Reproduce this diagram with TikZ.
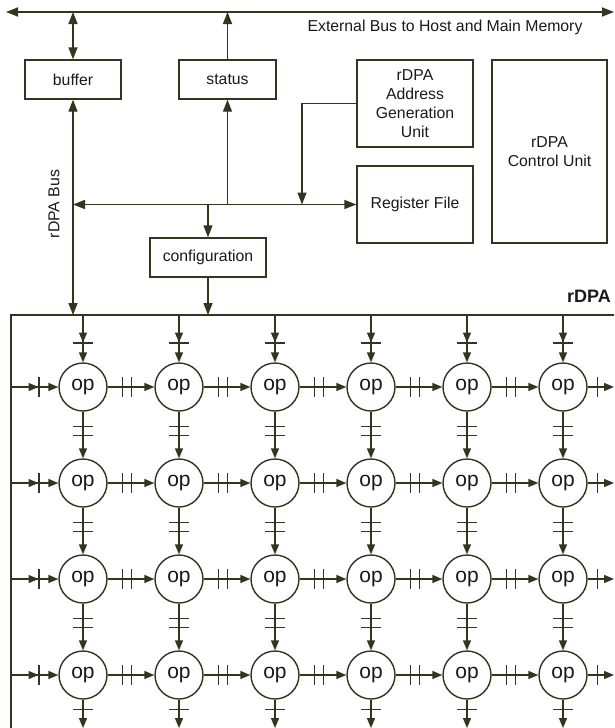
\documentclass[tikz,border=0pt]{standalone}
\usepackage{fontspec}
\setmainfont{Liberation Sans}
\usetikzlibrary{arrows.meta,decorations.markings}
\definecolor{lc}{HTML}{36331F}
\definecolor{tc}{HTML}{1A1A1A}
\newcommand\fsz{\fontsize{15.8pt}{19pt}\selectfont}
\newcommand\opsz{\fontsize{21pt}{24pt}\selectfont}
\newcommand\rsz{\fontsize{18pt}{21pt}\selectfont\bfseries}
\tikzset{
  ln/.style={line width=1.4pt, draw=lc},
  ea/.style={-{Triangle[length=12pt,width=9pt]}},
  ba/.style={{Triangle[length=12pt,width=9pt]}-{Triangle[length=12pt,width=9pt]}},
  ga/.style={-{Triangle[length=10pt,width=8pt]}},
  bx/.style={draw=lc, line width=1.4pt, fill=white, inner sep=0pt, text=tc, font=\fsz, align=center},
  opn/.style={circle, draw=lc, line width=1.4pt, fill=white, minimum size=48pt, inner sep=0pt, text=tc, font=\opsz},
  lbl/.style={text=tc, font=\fsz, inner sep=0pt},
  tkA/.style={postaction={decorate}, decoration={markings,
     mark=at position 27.5pt with {\arrow[lc]{Triangle[length=10pt,width=8pt]}},
     mark=at position 28pt with {\draw[-,lc,line width=1.4pt] (0,-10) -- (0,10);}}},
  tkB/.style={postaction={decorate}, decoration={markings,
     mark=at position 14.5pt with {\draw[-,lc,line width=1.4pt] (0,-10) -- (0,10);},
     mark=at position 23.5pt with {\draw[-,lc,line width=1.4pt] (0,-10) -- (0,10);}}},
  tkC/.style={postaction={decorate}, decoration={markings,
     mark=at position 9.5pt with {\draw[-,lc,line width=1.4pt] (0,-10) -- (0,10);}}},
}
\begin{document}
\begin{tikzpicture}[x=1pt, y=-1pt, color=lc]
\useasboundingbox (0,0) rectangle (614,728);

% upper boxes
\node[bx, minimum width=96pt, minimum height=39pt] (buffer) at (73,79.5) {buffer};
\node[bx, minimum width=97pt, minimum height=39pt] (status) at (227.5,79.5) {status};
\node[bx, minimum width=116pt, minimum height=87pt] (agu) at (415,103.5) {rDPA\\Address\\Generation\\Unit};
\node[bx, minimum width=116pt, minimum height=77pt] (regfile) at (415,204.5) {Register File};
\node[bx, minimum width=115pt, minimum height=183pt] (ctrl) at (549.5,151.5) {rDPA\\Control Unit};
\node[bx, minimum width=116pt, minimum height=39pt] (config) at (208,257.5) {configuration};

% external bus
\coordinate (busL) at (6,12);
\coordinate (busR) at (614,12);
\coordinate (busbuf) at (73,12);
\coordinate (busstat) at (227.5,12);
\draw[ln, ba] (busL) -- (busR);
\draw[ln, ba] (busbuf) -- (buffer);
\draw[ln, ea] (status) -- (busstat);
\node[lbl, anchor=base] (extlbl) at (445,31) {External Bus to Host and Main Memory};

% internal bus
\coordinate (hbL) at (73,204.5);
\coordinate (hs) at (227.5,204.5);
\coordinate (ha) at (302,204.5);
\coordinate (hc) at (208,204.5);
\coordinate (rbus) at (73,315);
\coordinate (cfgin) at (208,315);
\draw[ln, ba] (buffer) -- (rbus);
\draw[ln, ba] (hbL) -- (regfile.west);
\draw[ln, ea] (hs) -- (status);
\draw[ln, ea] (agu.west) -| (ha);
\draw[ln, ea] (hc) -- (config);
\draw[ln, ea] (config) -- (cfgin);
\node[lbl, rotate=90] (buslbl) at (54,204) {rDPA Bus};

% rDPA array frame
\coordinate (rTL) at (11,315);
\coordinate (rTR) at (614,315);
\coordinate (rBL) at (11,728);
\draw[ln] (rTR) -- (rTL) -- (rBL);
\node[lbl, anchor=base east, font=\rsz] (rdpalbl) at (611,302) {rDPA};

% op cells
\foreach \r in {1,...,4} {
  \foreach \c in {1,...,6} {
    \node[opn] (o\r\c) at ({83+96*(\c-1)},{387+96*(\r-1)}) {op};
  }
}
% top inputs and bottom outputs
\foreach \c in {1,...,6} {
  \coordinate (t\c) at ({83+96*(\c-1)},315);
  \coordinate (b\c) at ({83+96*(\c-1)},728);
  \draw[ln, ga, tkA] (t\c) -- (o1\c);
  \draw[ln, ga, tkC] (o4\c) -- (b\c);
}
% left inputs and right outputs
\foreach \r in {1,...,4} {
  \coordinate (l\r) at (11,{387+96*(\r-1)});
  \coordinate (e\r) at (614,{387+96*(\r-1)});
  \draw[ln, ga, tkA] (l\r) -- (o\r1);
  \draw[ln, ga, tkC] (o\r6) -- (e\r);
}
% horizontal links
\foreach \r in {1,...,4} {
  \foreach \c in {1,...,5} {
    \pgfmathtruncatemacro{\nc}{\c+1}
    \draw[ln, ga, tkB] (o\r\c) -- (o\r\nc);
  }
}
% vertical links
\foreach \r in {1,...,3} {
  \pgfmathtruncatemacro{\nr}{\r+1}
  \foreach \c in {1,...,6} {
    \draw[ln, ga, tkB] (o\r\c) -- (o\nr\c);
  }
}
\end{tikzpicture}
\end{document}
